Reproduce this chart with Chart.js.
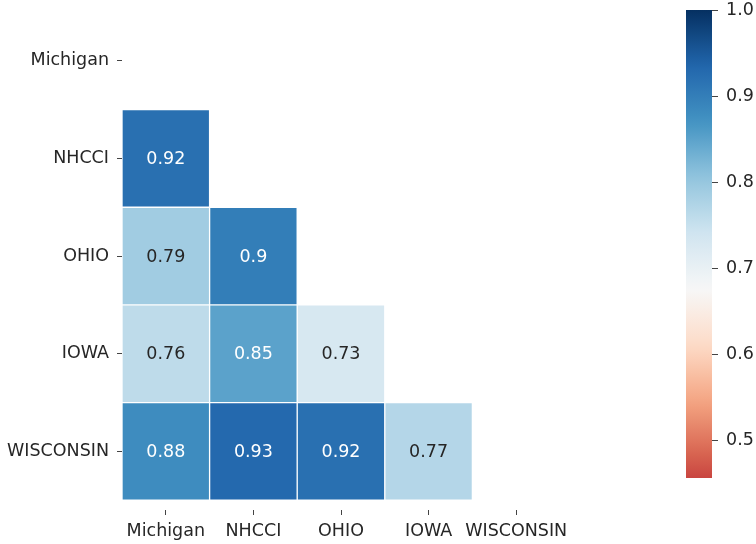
<!DOCTYPE html>
<html>
<head>
<meta charset="utf-8">
<script src="https://cdn.jsdelivr.net/npm/chart.js@4.4.1/dist/chart.umd.min.js"></script>
<style>
  body { margin: 0; background: #fff; }
  #wrap { position: relative; width: 756px; height: 544px; }
  #heat { position: absolute; left: 0; top: 0; }
  #bar { position: absolute; left: 640px; top: 0; }
</style>
</head>
<body>
<div id="wrap">
  <canvas id="heat" width="640" height="544"></canvas>
  <canvas id="bar" width="116" height="544"></canvas>
</div>
<script>
const states = ['Michigan', 'NHCCI', 'OHIO', 'IOWA', 'WISCONSIN'];
// lower triangle of the correlation matrix, row by row
const corrRows = [
    [],
    [0.92],
    [0.79, 0.9],
    [0.76, 0.85, 0.73],
    [0.88, 0.93, 0.92, 0.77]
];
const colorTicks = [0.5, 0.6, 0.7, 0.8, 0.9, 1.0];
const barMin = 0.456, barMax = 1.0;   // range shown by the colour bar
const normLo = 0.35, normHi = 1.0;    // where RdBu ends map to

// matplotlib RdBu
const rdbu = [
    [103, 0, 31], [178, 24, 43], [214, 96, 77], [244, 165, 130], [253, 219, 199],
    [247, 247, 247], [209, 229, 240], [146, 197, 222], [67, 147, 195], [33, 102, 172], [5, 48, 97]
];

function cmapRGB(v) {
    let t = (v - normLo) / (normHi - normLo);
    t = Math.max(0, Math.min(1, t)) * 10;
    const i = Math.min(9, Math.floor(t));
    const f = t - i;
    return rdbu[i].map((c, k) => Math.round(c + (rdbu[i + 1][k] - c) * f));
}

function colorFor(v) {
    const c = cmapRGB(v);
    return `rgb(${c[0]},${c[1]},${c[2]})`;
}

function textColor(v) {
    const lum = cmapRGB(v).map(c => {
        c = c / 255;
        return c <= 0.03928 ? c / 12.92 : Math.pow((c + 0.055) / 1.055, 2.4);
    });
    const l = 0.2126 * lum[0] + 0.7152 * lum[1] + 0.0722 * lum[2];
    return l > 0.408 ? '#262626' : '#ffffff';
}

Chart.defaults.font.family = 'DejaVu Sans';
Chart.defaults.font.size = 17.5;
Chart.defaults.color = '#262626';

function noPad(s) {
    s.paddingTop = 0; s.paddingBottom = 0; s.paddingLeft = 0; s.paddingRight = 0;
}

const cellLabels = {
    id: 'cellLabels',
    afterDatasetsDraw(chart) {
        const ctx = chart.ctx;
        ctx.save();
        ctx.font = '17.5px "DejaVu Sans"';
        ctx.textAlign = 'center';
        ctx.textBaseline = 'middle';
        chart.data.datasets.forEach((ds, i) => {
            const meta = chart.getDatasetMeta(i);
            meta.data.forEach((el, j) => {
                if (ds.data[j] == null) return;
                const v = corrRows[i][j];
                ctx.fillStyle = textColor(v);
                ctx.fillText(String(v), el.x, (el.y + el.base) / 2 + 1);
            });
        });
        ctx.restore();
    }
};

const datasets = states.map((row, i) => ({
    label: row,
    data: states.map((col, j) => j < i ? [i, i + 1] : null),
    backgroundColor: states.map((col, j) => j < i ? colorFor(corrRows[i][j]) : 'rgba(0,0,0,0)'),
    borderColor: '#ffffff',
    borderWidth: 1,
    borderSkipped: false,
    grouped: false,
    barPercentage: 1,
    categoryPercentage: 1
}));

new Chart(document.getElementById('heat'), {
    type: 'bar',
    data: { labels: states, datasets: datasets },
    options: {
        responsive: false,
        animation: false,
        layout: { padding: { left: 0, right: 80, top: 12, bottom: 0 } },
        plugins: { legend: { display: false }, tooltip: { enabled: false } },
        scales: {
            x: {
                grid: { drawOnChartArea: false, offset: false, tickLength: 5, tickColor: '#444' },
                border: { display: false },
                ticks: { autoSkip: false, maxRotation: 0, padding: 6 },
                afterFit: s => { s.height = 34; noPad(s); }
            },
            y: {
                min: 0,
                max: 5.1,
                reverse: true,
                grid: { drawOnChartArea: false, tickLength: 5, tickColor: '#444' },
                border: { display: false },
                afterBuildTicks: s => { s.ticks = states.map((n, i) => ({ value: i + 0.5 })); },
                ticks: { padding: 8, callback: v => states[Math.floor(v)] },
                afterFit: s => { s.width = 122; noPad(s); }
            }
        }
    },
    plugins: [cellLabels]
});

new Chart(document.getElementById('bar'), {
    type: 'bar',
    data: {
        labels: [''],
        datasets: [{
            data: [[barMin, barMax]],
            backgroundColor: ctx => {
                const chart = ctx.chart;
                if (!chart.chartArea) return null;
                const y = chart.scales.y;
                const g = chart.ctx.createLinearGradient(0, y.getPixelForValue(barMin), 0, y.getPixelForValue(barMax));
                for (let k = 0; k <= 40; k++) {
                    g.addColorStop(k / 40, colorFor(barMin + (barMax - barMin) * k / 40));
                }
                return g;
            },
            borderWidth: 0,
            barPercentage: 1,
            categoryPercentage: 1
        }]
    },
    options: {
        responsive: false,
        animation: false,
        layout: { padding: { left: 46, right: 0, top: 10, bottom: 66 } },
        plugins: { legend: { display: false }, tooltip: { enabled: false } },
        scales: {
            x: { display: false },
            y: {
                position: 'right',
                min: barMin,
                max: barMax,
                grid: { drawOnChartArea: false, tickLength: 6, tickColor: '#444' },
                border: { display: false },
                afterBuildTicks: s => { s.ticks = colorTicks.map(v => ({ value: v })); },
                ticks: { padding: 8, callback: v => v.toFixed(1) },
                afterFit: s => { s.width = 44; noPad(s); }
            }
        }
    }
});
</script>
</body>
</html>
